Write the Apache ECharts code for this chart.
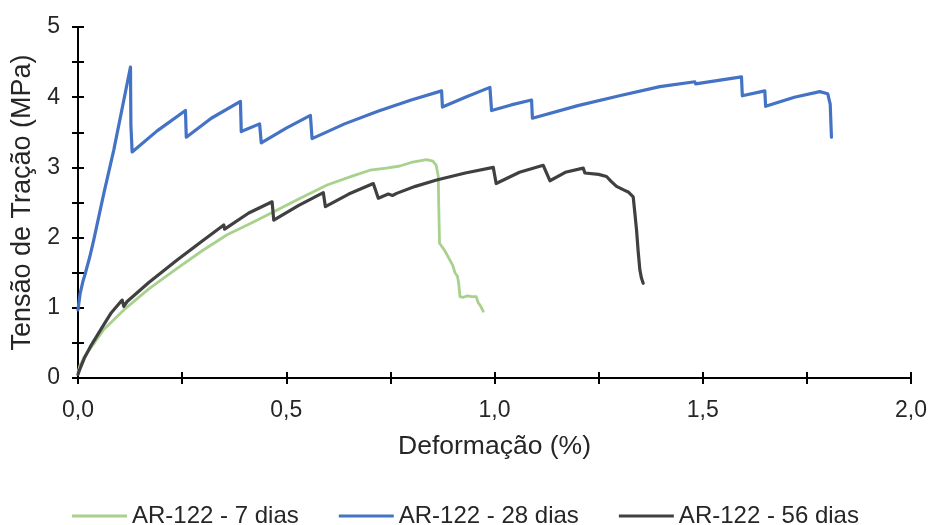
<!DOCTYPE html>
<html>
<head>
<meta charset="utf-8">
<script src="https://cdn.jsdelivr.net/npm/echarts@6/dist/echarts.min.js"></script>
<style>
  html, body { margin: 0; padding: 0; background: #fff; }
  #chart { width: 931px; height: 525px; }
</style>
</head>
<body>
<div id="chart"></div>
<script>
// Tensile stress vs. strain curves, AR-122 at three curing ages: [strain %, stress MPa]
const seriesNames = ['AR-122 - 7 dias', 'AR-122 - 28 dias', 'AR-122 - 56 dias'];

const dias7 = [
  [0, 0.08], [0.004, 0.17], [0.015, 0.3], [0.03, 0.42], [0.062, 0.69], [0.11, 0.97], [0.17, 1.27],
  [0.238, 1.56], [0.3, 1.82], [0.358, 2.04], [0.42, 2.22], [0.47, 2.37], [0.53, 2.55],
  [0.598, 2.75], [0.66, 2.88], [0.701, 2.96], [0.74, 2.99], [0.773, 3.02], [0.80, 3.07],
  [0.837, 3.11], [0.852, 3.09], [0.86, 3.03], [0.865, 2.87], [0.866, 2.5], [0.868, 1.92],
  [0.88, 1.82], [0.893, 1.68], [0.90, 1.6], [0.905, 1.5], [0.911, 1.45], [0.914, 1.35],
  [0.917, 1.16], [0.925, 1.15], [0.935, 1.17], [0.945, 1.16], [0.956, 1.16], [0.961, 1.07],
  [0.966, 1.03], [0.973, 0.95]
];

const dias28 = [
  [0, 0.97], [0.005, 1.2], [0.012, 1.38], [0.018, 1.5], [0.028, 1.72], [0.038, 1.97],
  [0.062, 2.63], [0.086, 3.25], [0.126, 4.43], [0.127, 3.6], [0.13, 3.22], [0.19, 3.52],
  [0.258, 3.81], [0.26, 3.43], [0.32, 3.70], [0.39, 3.94], [0.392, 3.51], [0.436, 3.62],
  [0.44, 3.35], [0.50, 3.56], [0.558, 3.74], [0.562, 3.41], [0.64, 3.62], [0.72, 3.80],
  [0.80, 3.96], [0.873, 4.09], [0.875, 3.86], [0.93, 4.00], [0.989, 4.14], [0.993, 3.81],
  [1.04, 3.89], [1.089, 3.96], [1.091, 3.70], [1.2, 3.88], [1.3, 4.02], [1.397, 4.15],
  [1.481, 4.22], [1.483, 4.19], [1.593, 4.29], [1.595, 4.02], [1.649, 4.09], [1.651, 3.87],
  [1.72, 4.0], [1.781, 4.08], [1.8, 4.05], [1.806, 3.9], [1.809, 3.43]
];

const dias56 = [
  [0, 0.05], [0.004, 0.12], [0.015, 0.28], [0.03, 0.45], [0.062, 0.76], [0.08, 0.93],
  [0.106, 1.11], [0.11, 1.02], [0.118, 1.09], [0.17, 1.36], [0.238, 1.68], [0.30, 1.96],
  [0.35, 2.18], [0.352, 2.12], [0.41, 2.35], [0.466, 2.51], [0.47, 2.25], [0.53, 2.46],
  [0.589, 2.64], [0.594, 2.44], [0.65, 2.62], [0.709, 2.77], [0.721, 2.56], [0.745, 2.62],
  [0.755, 2.60], [0.765, 2.63], [0.81, 2.73], [0.861, 2.82], [0.93, 2.92], [0.997, 3.00],
  [1.004, 2.77], [1.06, 2.93], [1.117, 3.03], [1.12, 3.04], [1.133, 2.81], [1.17, 2.93],
  [1.213, 2.99], [1.217, 2.92], [1.25, 2.90], [1.269, 2.87], [1.28, 2.80], [1.293, 2.73],
  [1.31, 2.68], [1.321, 2.65], [1.333, 2.58], [1.337, 2.35], [1.341, 2.11], [1.345, 1.8],
  [1.349, 1.54], [1.353, 1.42], [1.357, 1.35]
];

const colors = ['#A9D18E', '#4472C4', '#404040'];
const lineWidths = [2.8, 3.2, 3.2];

const FONT = 'Liberation Sans, Arial, sans-serif';
const TEXT = '#262626';

const chart = echarts.init(document.getElementById('chart'), null, { renderer: 'canvas' });

// x ticks every 0.25, labels every 0.5 with comma decimals
const xLabel = v => (Math.abs(v * 2 - Math.round(v * 2)) < 1e-9) ? v.toFixed(1).replace('.', ',') : '';
const yLabel = v => (Math.abs(v - Math.round(v)) < 1e-9) ? String(Math.round(v)) : '';

const axisLine = { show: true, onZero: false, lineStyle: { color: '#000', width: 2 } };

chart.setOption({
  animation: false,
  backgroundColor: '#fff',
  color: colors,
  grid: { left: 78, right: 20, top: 27, bottom: 147 },
  legend: {
    top: 499,
    left: 'center',
    icon: 'rect',
    itemWidth: 55,
    itemHeight: 3,
    itemGap: 40,
    textStyle: { fontFamily: FONT, fontSize: 24, color: TEXT },
    data: seriesNames
  },
  xAxis: [
    {
      type: 'value', min: 0, max: 2, interval: 0.25,
      name: 'Deformação (%)', nameLocation: 'middle', nameGap: 55,
      nameTextStyle: { fontFamily: FONT, fontSize: 26.5, color: TEXT },
      axisLine: axisLine,
      axisTick: { show: true, length: 6, lineStyle: { color: '#000', width: 2 } },
      axisLabel: { formatter: xLabel, fontFamily: FONT, fontSize: 23, color: TEXT, margin: 21, showMaxLabel: true, showMinLabel: true },
      splitLine: { show: false }
    },
    {
      // inward half of the crossing tick marks
      type: 'value', min: 0, max: 2, interval: 0.25, position: 'bottom', offset: 0,
      axisLine: { show: false },
      axisTick: { show: true, inside: true, length: 6, lineStyle: { color: '#000', width: 2 } },
      axisLabel: { show: false },
      splitLine: { show: false }
    }
  ],
  yAxis: [
    {
      type: 'value', min: 0, max: 5, interval: 0.5,
      name: 'Tensão de Tração (MPa)', nameLocation: 'middle', nameGap: 37,
      nameTextStyle: { fontFamily: FONT, fontSize: 27, color: TEXT },
      axisLine: axisLine,
      axisTick: { show: true, length: 6, lineStyle: { color: '#000', width: 2 } },
      axisLabel: { formatter: yLabel, fontFamily: FONT, fontSize: 23, color: TEXT, margin: 18 },
      splitLine: { show: false }
    },
    {
      type: 'value', min: 0, max: 5, interval: 0.5, position: 'left', offset: 0,
      axisLine: { show: false },
      axisTick: { show: true, inside: true, length: 6, lineStyle: { color: '#000', width: 2 } },
      axisLabel: { show: false },
      splitLine: { show: false }
    }
  ],
  series: [dias7, dias28, dias56].map((d, i) => ({
    name: seriesNames[i],
    type: 'line',
    data: d,
    showSymbol: false,
    symbol: 'none',
    smooth: false,
    clip: false,
    lineStyle: { color: colors[i], width: lineWidths[i], join: 'round', cap: 'round' },
    itemStyle: { color: colors[i] },
    z: 2 + i
  }))
});
</script>
</body>
</html>
